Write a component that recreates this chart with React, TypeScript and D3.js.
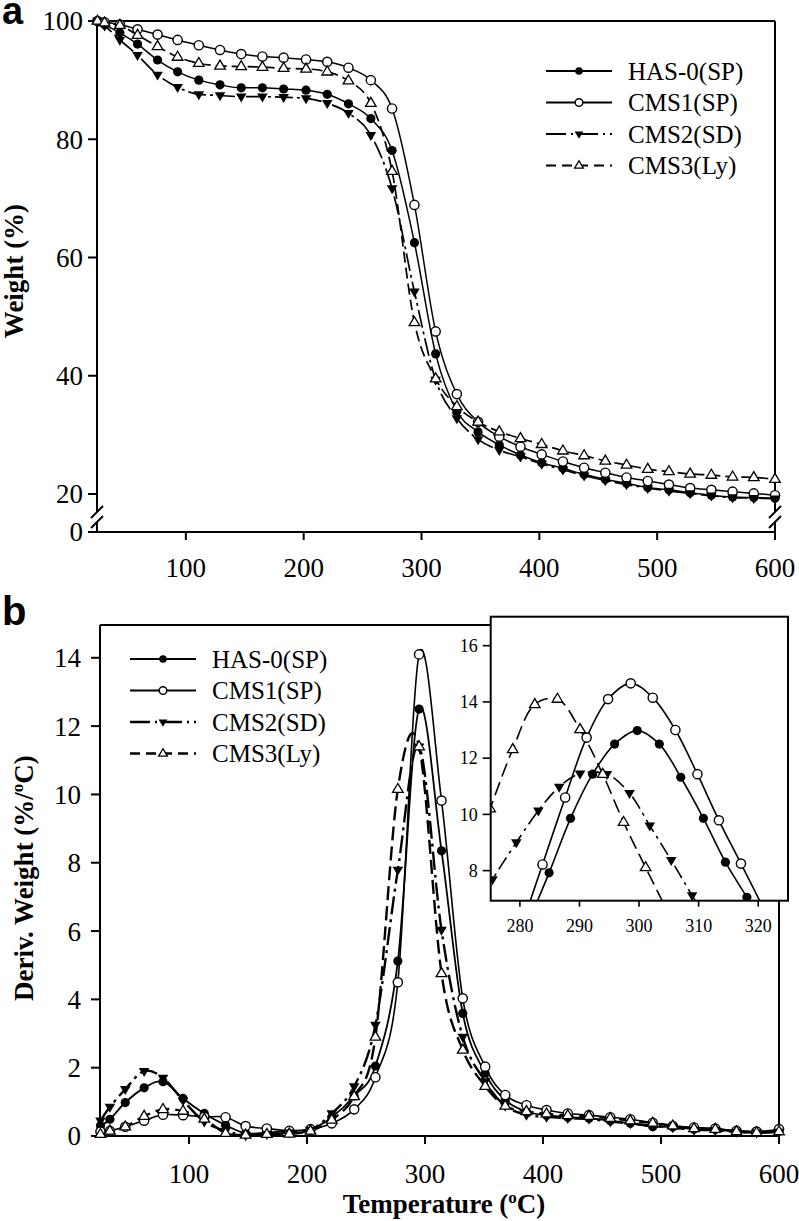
import React from "react";
import * as d3 from "d3";

// ---------- Data ----------
const seriesNames = ["HAS-0(SP)", "CMS1(SP)", "CMS2(SD)", "CMS3(Ly)"];

// Panel a: TGA (weight %)
const tempA = [25, 31, 44, 59, 76, 93, 111, 129, 147, 165, 183, 202, 220, 238, 257, 275, 294, 312, 330, 348, 366, 384, 402, 420, 438, 456, 474, 492, 510, 528, 546, 564, 582, 600];
const weightHAS0 = [100, 99.4, 98.0, 96.1, 93.4, 91.4, 90.0, 89.2, 88.7, 88.7, 88.5, 88.3, 87.6, 86.0, 83.5, 78.1, 62.5, 43.7, 34.0, 30.5, 28.3, 26.6, 25.3, 24.35, 23.3, 22.5, 21.8, 21.1, 20.7, 20.2, 19.8, 19.5, 19.4, 19.3];
const weightCMS1 = [100, 99.8, 99.4, 98.6, 97.7, 96.8, 95.9, 95.1, 94.4, 94.0, 93.8, 93.5, 93.1, 92.1, 90.0, 85.2, 68.9, 47.5, 36.9, 32.2, 29.7, 28.0, 26.7, 25.5, 24.45, 23.6, 22.8, 22.2, 21.6, 21.0, 20.7, 20.4, 20.1, 19.8];
const weightCMS2 = [100, 99.2, 96.8, 94.2, 90.9, 88.8, 87.6, 87.4, 87.2, 87.2, 87.1, 86.9, 86.1, 84.4, 80.7, 71.7, 54.2, 39.3, 32.8, 29.25, 27.4, 26.3, 25.1, 24.1, 23.1, 22.3, 21.6, 21.0, 20.5, 20.1, 19.7, 19.4, 19.3, 19.2];
const weightCMS3 = [100, 99.7, 99.3, 97.6, 95.7, 93.9, 92.85, 92.4, 92.3, 92.2, 92.0, 91.9, 91.4, 89.9, 86.1, 74.6, 49.0, 39.5, 34.8, 32.2, 30.55, 29.4, 28.4, 27.3, 26.5, 25.6, 24.9, 24.2, 23.8, 23.4, 23.2, 22.9, 22.8, 22.5];

// Panel b: DTG (deriv. weight %/oC)
const tempB = [25, 33, 46, 62, 78, 95, 113, 131, 148, 166, 185, 203, 221, 240, 258, 277, 295, 314, 332, 351, 368, 386, 403, 421, 439, 457, 474, 493, 510, 528, 546, 564, 581, 600];
const derivHAS0 = [0.3, 0.49, 0.98, 1.41, 1.59, 1.1, 0.66, 0.32, 0.08, 0.1, 0.15, 0.2, 0.55, 1.17, 2.05, 5.12, 12.5, 8.35, 3.59, 1.84, 1.05, 0.71, 0.61, 0.55, 0.52, 0.45, 0.37, 0.27, 0.27, 0.2, 0.2, 0.15, 0.13, 0.16];
const derivCMS1 = [0.13, 0.15, 0.27, 0.45, 0.62, 0.61, 0.56, 0.55, 0.29, 0.22, 0.15, 0.2, 0.37, 0.78, 1.72, 4.5, 14.1, 9.82, 4.03, 2.03, 1.2, 0.9, 0.76, 0.66, 0.61, 0.55, 0.49, 0.39, 0.29, 0.25, 0.22, 0.15, 0.13, 0.2];
const derivCMS2 = [0.45, 0.85, 1.37, 1.9, 1.7, 1.04, 0.42, 0.15, 0.02, 0.05, 0.1, 0.18, 0.66, 1.45, 3.25, 7.79, 11.4, 6.03, 2.9, 1.6, 0.88, 0.62, 0.56, 0.52, 0.5, 0.42, 0.37, 0.3, 0.25, 0.18, 0.17, 0.12, 0.1, 0.12];
const derivCMS3 = [0.05, 0.15, 0.27, 0.58, 0.78, 0.73, 0.5, 0.08, 0.03, 0.05, 0.06, 0.15, 0.47, 1.16, 2.9, 10.15, 11.4, 4.76, 2.52, 1.46, 0.88, 0.72, 0.65, 0.6, 0.58, 0.52, 0.45, 0.38, 0.3, 0.22, 0.2, 0.13, 0.1, 0.13];

// Inset (peak region)
const insetTempHAS0 = [281.3, 284.9, 288.5, 292.2, 295.9, 299.7, 303.4, 307.0, 310.8, 314.5, 318.1, 321.8];
const insetHAS0 = [6.1, 7.92, 9.86, 11.43, 12.5, 12.98, 12.5, 11.32, 9.86, 8.3, 7.05, 5.7];
const insetTempCMS1 = [280.1, 283.8, 287.6, 291.2, 294.8, 298.6, 302.3, 306.1, 309.8, 313.4, 317.1, 320.8];
const insetCMS1 = [5.9, 8.22, 10.6, 12.73, 14.1, 14.66, 14.15, 13.0, 11.43, 9.79, 8.25, 6.7];
const insetTempCMS2 = [271.8, 275.4, 279.4, 283.1, 286.6, 290.1, 294.6, 298.4, 301.8, 305.4, 308.9, 312.5];
const insetCMS2 = [6.4, 7.69, 9.0, 10.13, 10.98, 11.45, 11.43, 10.75, 9.6, 8.37, 7.12, 5.9];
const insetTempCMS3 = [271.3, 275.0, 278.8, 282.5, 286.3, 290.1, 293.9, 297.4, 301.1, 304.9];
const insetCMS3 = [8.0, 10.2, 12.31, 13.91, 14.1, 13.02, 11.43, 9.72, 8.11, 6.5];

const ticksX = [100, 200, 300, 400, 500, 600];
const ticksAY = [20, 40, 60, 80, 100];
const ticksBY = [0, 2, 4, 6, 8, 10, 12, 14];
const ticksInsetX = [280, 290, 300, 310, 320];
const ticksInsetY = [8, 10, 12, 14, 16];

// ---------- Styles ----------
type Kind = "filledCircle" | "openCircle" | "filledTri" | "openTri";
const kinds: Kind[] = ["filledCircle", "openCircle", "filledTri", "openTri"];
const dashA = [null, null, "18,4,3,4", "11,5"];
const dashB = [null, null, "18,5,3,5", "14,6"];
const widthA = [1.5, 1.5, 1.7, 1.7];
const widthB = [1.8, 1.6, 2.4, 2.4];

const SERIF = "'Liberation Serif', 'Times New Roman', serif";
const SANS = "'Liberation Sans', Arial, sans-serif";

function Marker({ kind, x, y, r }: { kind: Kind; x: number; y: number; r: number }) {
  if (kind === "filledCircle") return <circle cx={x} cy={y} r={r} fill="#000" />;
  if (kind === "openCircle")
    return <circle cx={x} cy={y} r={r} fill="#fff" stroke="#000" strokeWidth={1.4} />;
  const s = r * 1.15;
  if (kind === "filledTri")
    return <path d={`M${x - s},${y - s * 0.6}L${x + s},${y - s * 0.6}L${x},${y + s * 1.1}Z`} fill="#000" />;
  return (
    <path
      d={`M${x - s},${y + s * 0.6}L${x + s},${y + s * 0.6}L${x},${y - s * 1.1}Z`}
      fill="#fff"
      stroke="#000"
      strokeWidth={1.3}
    />
  );
}

function BreakMark({ x, yc }: { x: number; yc: number }) {
  const w = 6;
  return (
    <g>
      <polygon
        points={`${x - w},${yc + 1} ${x + w},${yc - 11} ${x + w},${yc - 1} ${x - w},${yc + 11}`}
        fill="#fff"
      />
      <line x1={x - w} y1={yc + 1} x2={x + w} y2={yc - 11} stroke="#000" strokeWidth={2} />
      <line x1={x - w} y1={yc + 11} x2={x + w} y2={yc - 1} stroke="#000" strokeWidth={2} />
    </g>
  );
}

function Legend({ x0, y0, lineW }: { x0: number; y0: number; lineW: number[] }) {
  return (
    <g>
      {seriesNames.map((name, i) => {
        const y = y0 + i * 31.5;
        return (
          <g key={name}>
            <line
              x1={x0}
              x2={x0 + 66}
              y1={y}
              y2={y}
              stroke="#000"
              strokeWidth={lineW[i]}
              strokeDasharray={i === 2 ? "20,5,2,5" : i === 3 ? "10,6" : undefined}
            />
            <Marker kind={kinds[i]} x={x0 + 33} y={y} r={3.8} />
            <text x={x0 + 82} y={y} dy="0.35em" fontFamily={SERIF} fontSize={25}>
              {name}
            </text>
          </g>
        );
      })}
    </g>
  );
}

export default function App() {
  // ---------- Panel a ----------
  const aL = 97, aR = 775, aT = 21, aB = 532;
  const xA = d3.scaleLinear().domain([24.6, 600]).range([aL, aR]);
  const yA = d3.scaleLinear().domain([20, 100]).range([494, aT]);
  const dataA = [weightHAS0, weightCMS1, weightCMS2, weightCMS3];
  const lineA = d3
    .line<number>()
    .x((_, i) => xA(tempA[i]))
    .y((d) => yA(d))
    .curve(d3.curveMonotoneX);

  // ---------- Panel b ----------
  const bL = 100, bR = 779, bT = 625, bB = 1136;
  const xB = d3.scaleLinear().domain([24.6, 600]).range([bL, bR]);
  const yB = d3.scaleLinear().domain([0, 14.96]).range([bB, bT]);
  const dataB = [derivHAS0, derivCMS1, derivCMS2, derivCMS3];
  const lineB = d3
    .line<number>()
    .x((_, i) => xB(tempB[i]))
    .y((d) => yB(d))
    .curve(d3.curveCardinal.tension(0));

  // ---------- Inset ----------
  const iL = 490.7, iR = 788, iT = 616.7, iB = 900.7;
  const xI = d3.scaleLinear().domain([275.1, 325]).range([iL, iR]);
  const yI = d3.scaleLinear().domain([6.93, 17.03]).range([iB, iT]);
  const insetT = [insetTempHAS0, insetTempCMS1, insetTempCMS2, insetTempCMS3];
  const insetV = [insetHAS0, insetCMS1, insetCMS2, insetCMS3];

  return (
    <svg
      width={799}
      height={1221}
      style={{ position: "absolute", left: 0, top: 0, background: "#fff" }}
      xmlns="http://www.w3.org/2000/svg"
    >
      <defs>
        <clipPath id="clipB">
          <rect x={bL} y={bT - 30} width={bR - bL} height={bB - bT + 30} />
        </clipPath>
        <clipPath id="clipI">
          <rect x={iL} y={iT} width={iR - iL} height={iB - iT} />
        </clipPath>
      </defs>
      <rect x={0} y={0} width={799} height={1221} fill="#fff" />

      {/* ================= Panel a ================= */}
      <text x={2} y={24} fontFamily={SANS} fontWeight="bold" fontSize={38}>a</text>

      {/* frame */}
      <line x1={aL} y1={aT} x2={aR} y2={aT} stroke="#000" strokeWidth={2} />
      <line x1={aR} y1={aT} x2={aR} y2={aB} stroke="#000" strokeWidth={2} />
      <line x1={aL} y1={aT} x2={aL} y2={aB} stroke="#000" strokeWidth={2} />
      <line x1={aL - 9} y1={aB} x2={aR} y2={aB} stroke="#000" strokeWidth={2} />
      <BreakMark x={aL} yc={517} />
      <BreakMark x={aR} yc={517} />

      {/* y ticks */}
      {ticksAY.map((t) => (
        <g key={t}>
          <line x1={aL - 9} x2={aL} y1={yA(t)} y2={yA(t)} stroke="#000" strokeWidth={2} />
          <text x={aL - 14} y={yA(t)} dy="0.35em" textAnchor="end" fontFamily={SERIF} fontSize={27}>
            {t}
          </text>
        </g>
      ))}
      <text x={aL - 14} y={aB} dy="0.35em" textAnchor="end" fontFamily={SERIF} fontSize={27}>0</text>

      {/* x ticks */}
      {ticksX.map((t) => (
        <g key={t}>
          <line x1={xA(t)} x2={xA(t)} y1={aB} y2={aB + 8} stroke="#000" strokeWidth={2} />
          <text x={xA(t)} y={577} textAnchor="middle" fontFamily={SERIF} fontSize={27}>
            {t}
          </text>
        </g>
      ))}

      <text
        transform={`translate(23, 271) rotate(-90)`}
        textAnchor="middle"
        fontFamily={SERIF}
        fontWeight="bold"
        fontSize={27}
      >
        Weight (%)
      </text>

      {/* curves a */}
      {dataA.map((d, i) => (
        <path
          key={i}
          d={lineA(d) || ""}
          fill="none"
          stroke="#000"
          strokeWidth={widthA[i]}
          strokeDasharray={dashA[i] || undefined}
        />
      ))}
      {dataA.map((d, i) => (
        <g key={i}>
          {d.map((v, j) => (
            <Marker key={j} kind={kinds[i]} x={xA(tempA[j])} y={yA(v)} r={4.6} />
          ))}
        </g>
      ))}

      <Legend x0={546} y0={71} lineW={[1.8, 1.8, 1.8, 1.8]} />

      {/* ================= Panel b ================= */}
      <text x={2} y={625} fontFamily={SANS} fontWeight="bold" fontSize={40}>b</text>

      <line x1={bL} y1={bT} x2={bR} y2={bT} stroke="#000" strokeWidth={2} />
      <line x1={bR} y1={bT} x2={bR} y2={bB} stroke="#000" strokeWidth={2} />
      <line x1={bL} y1={bT} x2={bL} y2={bB} stroke="#000" strokeWidth={2} />
      <line x1={bL - 9} y1={bB} x2={bR} y2={bB} stroke="#000" strokeWidth={2} />

      {ticksBY.map((t) => (
        <g key={t}>
          <line x1={bL - 9} x2={bL} y1={yB(t)} y2={yB(t)} stroke="#000" strokeWidth={2} />
          <text x={bL - 19} y={yB(t)} dy="0.35em" textAnchor="end" fontFamily={SERIF} fontSize={27}>
            {t}
          </text>
        </g>
      ))}
      {ticksX.map((t) => (
        <g key={t}>
          <line x1={xB(t)} x2={xB(t)} y1={bB} y2={bB + 8} stroke="#000" strokeWidth={2} />
          <text x={xB(t)} y={1183} textAnchor="middle" fontFamily={SERIF} fontSize={27}>
            {t}
          </text>
        </g>
      ))}

      <text
        transform={`translate(33, 878) rotate(-90)`}
        textAnchor="middle"
        fontFamily={SERIF}
        fontWeight="bold"
        fontSize={27}
      >
        Deriv. Weight (%/<tspan dy={-10} fontSize={17}>o</tspan>
        <tspan dy={10}>C)</tspan>
      </text>
      <text x={444} y={1213} textAnchor="middle" fontFamily={SERIF} fontWeight="bold" fontSize={27}>
        Temperature (<tspan dy={-10} fontSize={17}>o</tspan>
        <tspan dy={10}>C)</tspan>
      </text>

      <g clipPath="url(#clipB)">
        {dataB.map((d, i) => (
          <path
            key={i}
            d={lineB(d) || ""}
            fill="none"
            stroke="#000"
            strokeWidth={widthB[i]}
            strokeDasharray={dashB[i] || undefined}
          />
        ))}
      </g>
      {dataB.map((d, i) => (
        <g key={i}>
          {d.map((v, j) => (
            <Marker key={j} kind={kinds[i]} x={xB(tempB[j])} y={yB(v)} r={4.6} />
          ))}
        </g>
      ))}

      <Legend x0={130} y0={659} lineW={[1.8, 1.8, 2.6, 2.6]} />

      {/* ================= Inset ================= */}
      <rect x={iL} y={iT} width={iR - iL} height={iB - iT} fill="#fff" stroke="none" />
      <g clipPath="url(#clipI)">
        {insetV.map((d, i) => {
          const ln = d3
            .line<number>()
            .x((_, j) => xI(insetT[i][j]))
            .y((v) => yI(v))
            .curve(d3.curveCatmullRom.alpha(0.5));
          return (
            <path
              key={i}
              d={ln(d) || ""}
              fill="none"
              stroke="#000"
              strokeWidth={1.6}
              strokeDasharray={i === 2 ? "14,5,3,5" : i === 3 ? "14,6" : undefined}
            />
          );
        })}
        {insetV.map((d, i) => (
          <g key={i}>
            {d.map((v, j) => (
              <Marker key={j} kind={kinds[i]} x={xI(insetT[i][j])} y={yI(v)} r={4.6} />
            ))}
          </g>
        ))}
      </g>
      <rect x={iL} y={iT} width={iR - iL} height={iB - iT} fill="none" stroke="#000" strokeWidth={2} />
      {ticksInsetY.map((t) => (
        <g key={t}>
          <line x1={iL - 8} x2={iL} y1={yI(t)} y2={yI(t)} stroke="#000" strokeWidth={1.6} />
          <text x={iL - 13} y={yI(t)} dy="0.35em" textAnchor="end" fontFamily={SERIF} fontSize={18}>
            {t}
          </text>
        </g>
      ))}
      {ticksInsetX.map((t) => (
        <g key={t}>
          <line x1={xI(t)} x2={xI(t)} y1={iB} y2={iB + 6} stroke="#000" strokeWidth={1.6} />
          <text x={xI(t)} y={932} textAnchor="middle" fontFamily={SERIF} fontSize={18}>
            {t}
          </text>
        </g>
      ))}
    </svg>
  );
}
